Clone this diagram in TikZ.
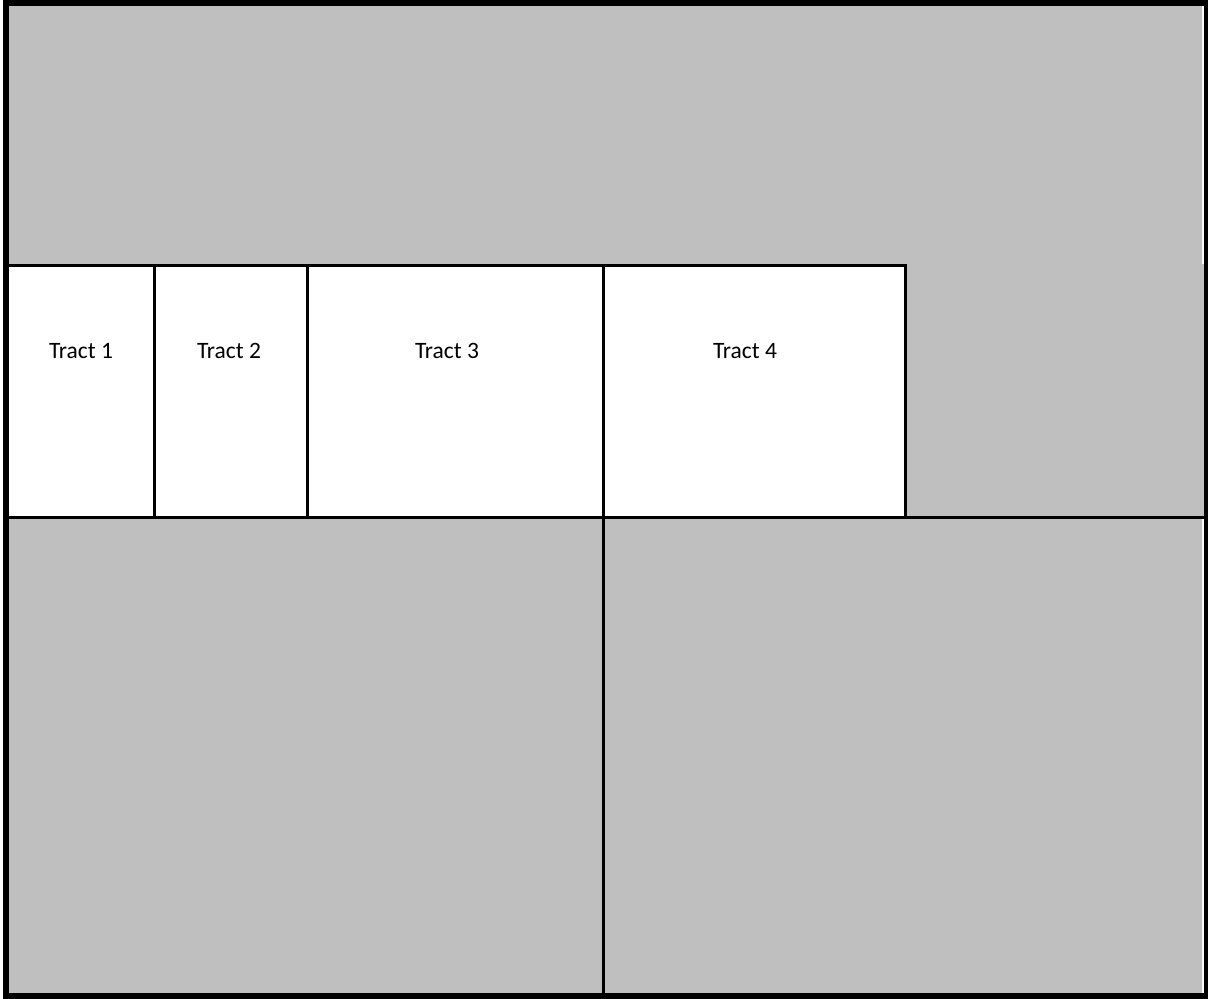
\documentclass[tikz,border=0pt]{standalone}
\usepackage{fontspec}
\setmainfont{Carlito}
\definecolor{plotgray}{RGB}{191,191,191}
\begin{document}
\begin{tikzpicture}[x=1pt,y=-1pt,
  line/.style={draw=black,line width=3pt},
  lbl/.style={font=\fontsize{23.5}{28}\selectfont,inner sep=0pt,anchor=center}]
\useasboundingbox (0,0) rectangle (1208,999);
\fill[white] (0,0) rectangle (1208,999);
% gray parcels
\fill[plotgray] (6,3) rectangle (1202,265);
\fill[plotgray] (905,264) rectangle (1205,518);
\fill[plotgray] (6,517) rectangle (1202,996);
% tracts
\fill[white] (6,265) rectangle (905,517);
\draw[line] (6,265.5) -- (905,265.5);
\draw[line] (6,517.5) -- (1206,517.5);
\draw[line] (154.5,265) -- (154.5,517);
\draw[line] (307.5,265) -- (307.5,517);
\draw[line] (603.5,265) -- (603.5,996);
\draw[line] (905.5,264) -- (905.5,517);
% outer frame
\draw[draw=black,line width=6pt] (6,3) rectangle (1207,996);
% labels
\node[lbl] (t1) at (81,351) {Tract 1};
\node[lbl] (t2) at (229,351) {Tract 2};
\node[lbl] (t3) at (447,351) {Tract 3};
\node[lbl] (t4) at (745,351) {Tract 4};
\end{tikzpicture}
\end{document}
